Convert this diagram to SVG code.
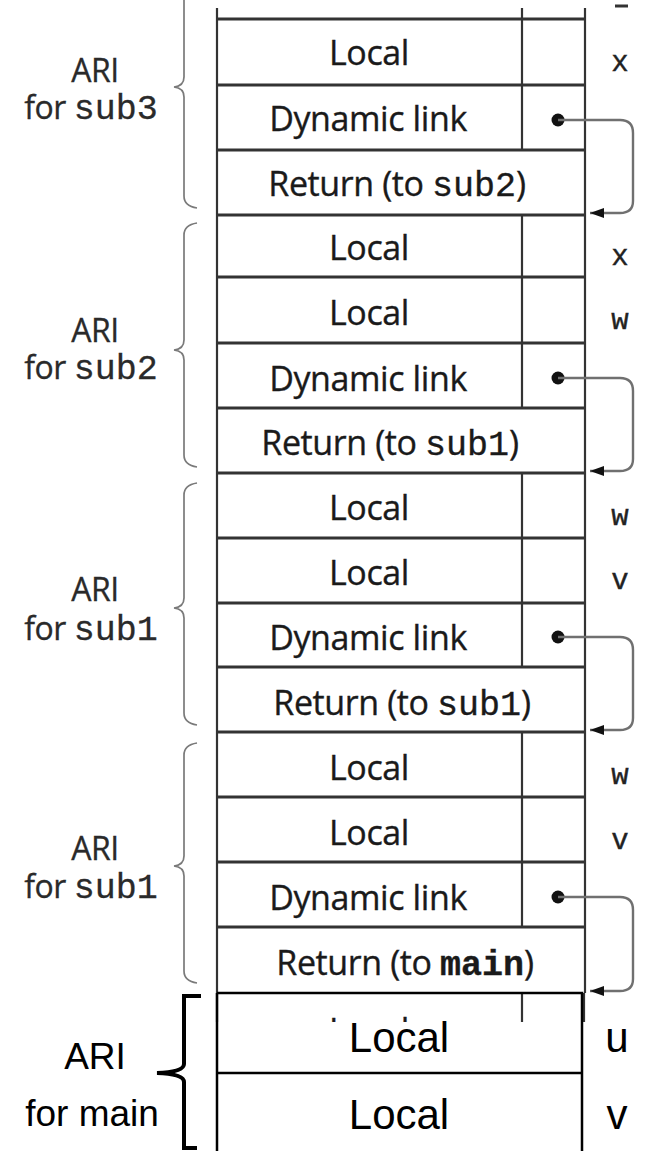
<svg xmlns="http://www.w3.org/2000/svg" width="650" height="1151" viewBox="0 0 650 1151">
<style>
.grid{stroke:#333;stroke-width:2.8;fill:none}
.vl{stroke:#333;stroke-width:2.2;fill:none}
.brace{stroke:#7a7a7a;stroke-width:1.7;fill:none}
.t{font-family:"Open Sans",sans-serif;font-size:34px;letter-spacing:-0.4px;fill:#1a1a1a;stroke:#1a1a1a;stroke-width:0.35;text-anchor:middle}
.m{font-family:"Liberation Mono",monospace;font-size:35px;letter-spacing:0}
.v{font-family:"Liberation Mono",monospace;font-size:29px;fill:#222;stroke:#222;stroke-width:0.4;text-anchor:middle}
.lbl{font-family:"Open Sans",sans-serif;font-size:32px;letter-spacing:-0.5px;fill:#2a2a2a;stroke:#2a2a2a;stroke-width:0.3;text-anchor:middle}
.lm{font-family:"Liberation Mono",monospace;font-size:35px;letter-spacing:0}
.main{font-family:"Liberation Sans",sans-serif;font-size:42px;fill:#000;text-anchor:middle}
.mainlbl{font-family:"Liberation Sans",sans-serif;font-size:37px;fill:#000;text-anchor:middle}
.link{stroke:#707070;stroke-width:2.4;fill:none}
</style>
<defs>
<marker id="arr" markerUnits="userSpaceOnUse" markerWidth="16" markerHeight="12" refX="14" refY="5" orient="auto">
<path d="M0,0 L14,5 L0,10 Z" fill="#111"/>
</marker>
<clipPath id="cut"><rect x="210" y="993" width="380" height="29"/></clipPath>
</defs>
<rect width="650" height="1151" fill="#fff"/>

<g id="stack-grid">
<path class="vl" d="M217,8 V1022 M585,8 V993 M584,993 V1022"/>
<path class="vl" d="M522,8 V150 M522,215 V408 M522,473 V667 M522,732 V927 M522,993 V1022"/>
<path class="grid" d="M217,19 H585 M217,85 H585 M217,150 H585 M217,215 H585 M217,277 H585 M217,343 H585 M217,408 H585 M217,473 H585 M217,538 H585 M217,603 H585 M217,667 H585 M217,732 H585 M217,797 H585 M217,862 H585 M217,927 H585"/>
<path d="M615,6 H628" stroke="#333" stroke-width="3"/>
</g>

<g id="ari-sub3">
<path class="brace" d="M184,0 L184,77 Q184,86 174,87 Q184,88 184,97 L184,196 Q184,206 197,208"/>
<text class="lbl" x="95" y="82">ARI</text>
<text class="lbl" x="91" y="119">for <tspan class="lm">sub3</tspan></text>
<text class="t" x="369" y="65">Local</text><text class="v" x="620" y="71">x</text>
<text class="t" x="368" y="131">Dynamic link</text>
<circle cx="558" cy="120" r="6.5" fill="#111"/>
<text class="t" x="397" y="196">Return (to <tspan class="m">sub2</tspan>)</text>
</g>

<g id="ari-sub2">
<path class="brace" d="M197,223 Q184,225 184,235 L184,340 Q184,349 174,350 Q184,351 184,360 L184,455 Q184,465 197,467"/>
<text class="lbl" x="95" y="342">ARI</text>
<text class="lbl" x="91" y="379">for <tspan class="lm">sub2</tspan></text>
<text class="t" x="369" y="260">Local</text><text class="v" x="620" y="265">x</text>
<text class="t" x="369" y="325">Local</text><text class="v" x="620" y="329">w</text>
<text class="t" x="368" y="391">Dynamic link</text>
<circle cx="558" cy="378" r="6.5" fill="#111"/>
<text class="t" x="390" y="455">Return (to <tspan class="m">sub1</tspan>)</text>
</g>

<g id="ari-sub1-a">
<path class="brace" d="M197,483 Q184,485 184,495 L184,598 Q184,607 174,608 Q184,609 184,618 L184,713 Q184,723 197,725"/>
<text class="lbl" x="95" y="601">ARI</text>
<text class="lbl" x="91" y="640">for <tspan class="lm">sub1</tspan></text>
<text class="t" x="369" y="520">Local</text><text class="v" x="620" y="525">w</text>
<text class="t" x="369" y="585">Local</text><text class="v" x="620" y="589">v</text>
<text class="t" x="368" y="650">Dynamic link</text>
<circle cx="558" cy="637" r="6.5" fill="#111"/>
<text class="t" x="402" y="715">Return (to <tspan class="m">sub1</tspan>)</text>
</g>

<g id="ari-sub1-b">
<path class="brace" d="M197,743 Q184,745 184,755 L184,856 Q184,865 174,866 Q184,867 184,876 L184,971 Q184,981 197,983"/>
<text class="lbl" x="95" y="860">ARI</text>
<text class="lbl" x="91" y="898">for <tspan class="lm">sub1</tspan></text>
<text class="t" x="369" y="780">Local</text><text class="v" x="620" y="784">w</text>
<text class="t" x="369" y="845">Local</text><text class="v" x="620" y="849">v</text>
<text class="t" x="368" y="910">Dynamic link</text>
<circle cx="558" cy="897" r="6.5" fill="#111"/>
<text class="t" x="405" y="975">Return (to <tspan class="m" font-weight="bold">main</tspan>)</text>
<text class="t" x="369" y="1043" clip-path="url(#cut)">Local</text>
</g>

<g id="ari-main">
<rect x="217" y="1022" width="365" height="135" fill="#fff"/>
<path d="M217,993 H582 V1157 M217,993 V1157 M217,1073 H582" stroke="#000" stroke-width="2.5" fill="none"/>
<path d="M201,996 H184 V1064 Q184,1072 157,1073 Q184,1074 184,1082 V1148 H197" stroke="#000" stroke-width="4" fill="none"/>
<text class="mainlbl" x="95" y="1069">ARI</text>
<text class="mainlbl" x="92" y="1126">for main</text>
<text class="main" x="399" y="1052">Local</text><text class="main" x="617" y="1052">u</text>
<text class="main" x="399" y="1129">Local</text><text class="main" x="617" y="1129">v</text>
</g>

<g id="connectors">
<path class="link" marker-end="url(#arr)" d="M558,120 H620 Q633,120 633,133 V201 Q633,213 620,213 H590"/>
<path class="link" marker-end="url(#arr)" d="M558,378 H620 Q633,378 633,391 V459 Q633,471 620,471 H590"/>
<path class="link" marker-end="url(#arr)" d="M558,637 H620 Q633,637 633,650 V718 Q633,730 620,730 H590"/>
<path class="link" marker-end="url(#arr)" d="M558,897 H620 Q633,897 633,910 V979 Q633,991 620,991 H590"/>
</g>
</svg>
